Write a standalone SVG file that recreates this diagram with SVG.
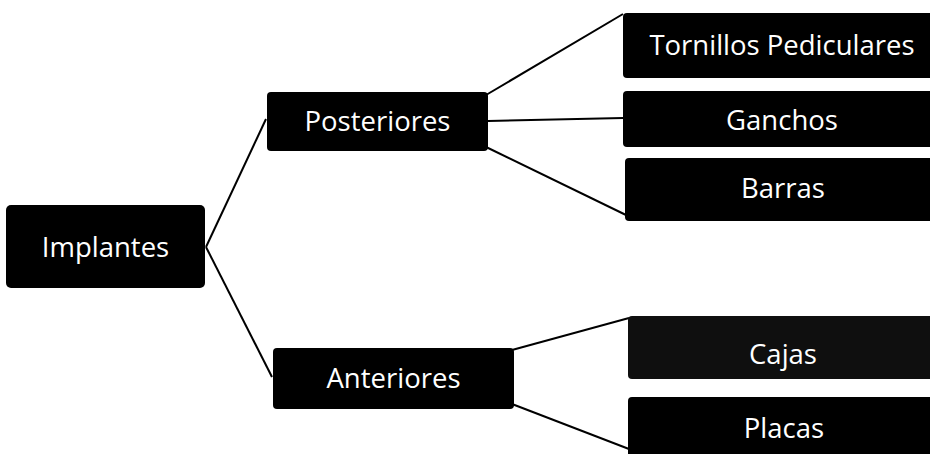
<svg xmlns="http://www.w3.org/2000/svg" width="930" height="454" viewBox="0 0 930 454">
  <style>
    .box { fill: #000; }
    .box.soft { fill: #0f0f0f; }
    .label { fill: #fff; font-family: "Open Sans", "Liberation Sans", sans-serif; font-size: 27.5px; text-anchor: middle; }
    .link { stroke: #000; stroke-width: 2; fill: none; }
  </style>
  <rect width="930" height="454" fill="#fff"/>

  <g id="connectors">
    <line class="link" x1="206" y1="247" x2="266" y2="119"/>
    <line class="link" x1="206" y1="247" x2="272" y2="377"/>
    <line class="link" x1="486" y1="95" x2="623" y2="14"/>
    <line class="link" x1="488" y1="121" x2="623" y2="118"/>
    <line class="link" x1="484" y1="146" x2="626" y2="215"/>
    <line class="link" x1="512" y1="350" x2="629" y2="318"/>
    <line class="link" x1="512" y1="404" x2="629" y2="449"/>
  </g>

  <g id="implantes">
    <rect class="box" x="6" y="205" width="199" height="83" rx="5"/>
    <text class="label" x="105.5" y="257">Implantes</text>
  </g>

  <g id="posteriores">
    <rect class="box" x="267" y="92" width="221" height="59" rx="4"/>
    <text class="label" x="377.5" y="131">Posteriores</text>
  </g>

  <g id="anteriores">
    <rect class="box" x="273" y="348" width="241" height="61" rx="4"/>
    <text class="label" x="393.5" y="388">Anteriores</text>
  </g>

  <g id="tornillos">
    <rect class="box" x="623" y="13" width="320" height="65" rx="4"/>
    <text class="label" x="782" y="55">Tornillos Pediculares</text>
  </g>

  <g id="ganchos">
    <rect class="box" x="623" y="91" width="320" height="56" rx="4"/>
    <text class="label" x="782" y="130">Ganchos</text>
  </g>

  <g id="barras">
    <rect class="box" x="625" y="158" width="320" height="63" rx="4"/>
    <text class="label" x="783" y="198">Barras</text>
  </g>

  <g id="cajas">
    <rect class="box soft" x="628" y="316" width="320" height="63" rx="4"/>
    <text class="label" x="783" y="364">Cajas</text>
  </g>

  <g id="placas">
    <rect class="box" x="628" y="397" width="320" height="70" rx="4"/>
    <text class="label" x="784" y="438">Placas</text>
  </g>
</svg>
